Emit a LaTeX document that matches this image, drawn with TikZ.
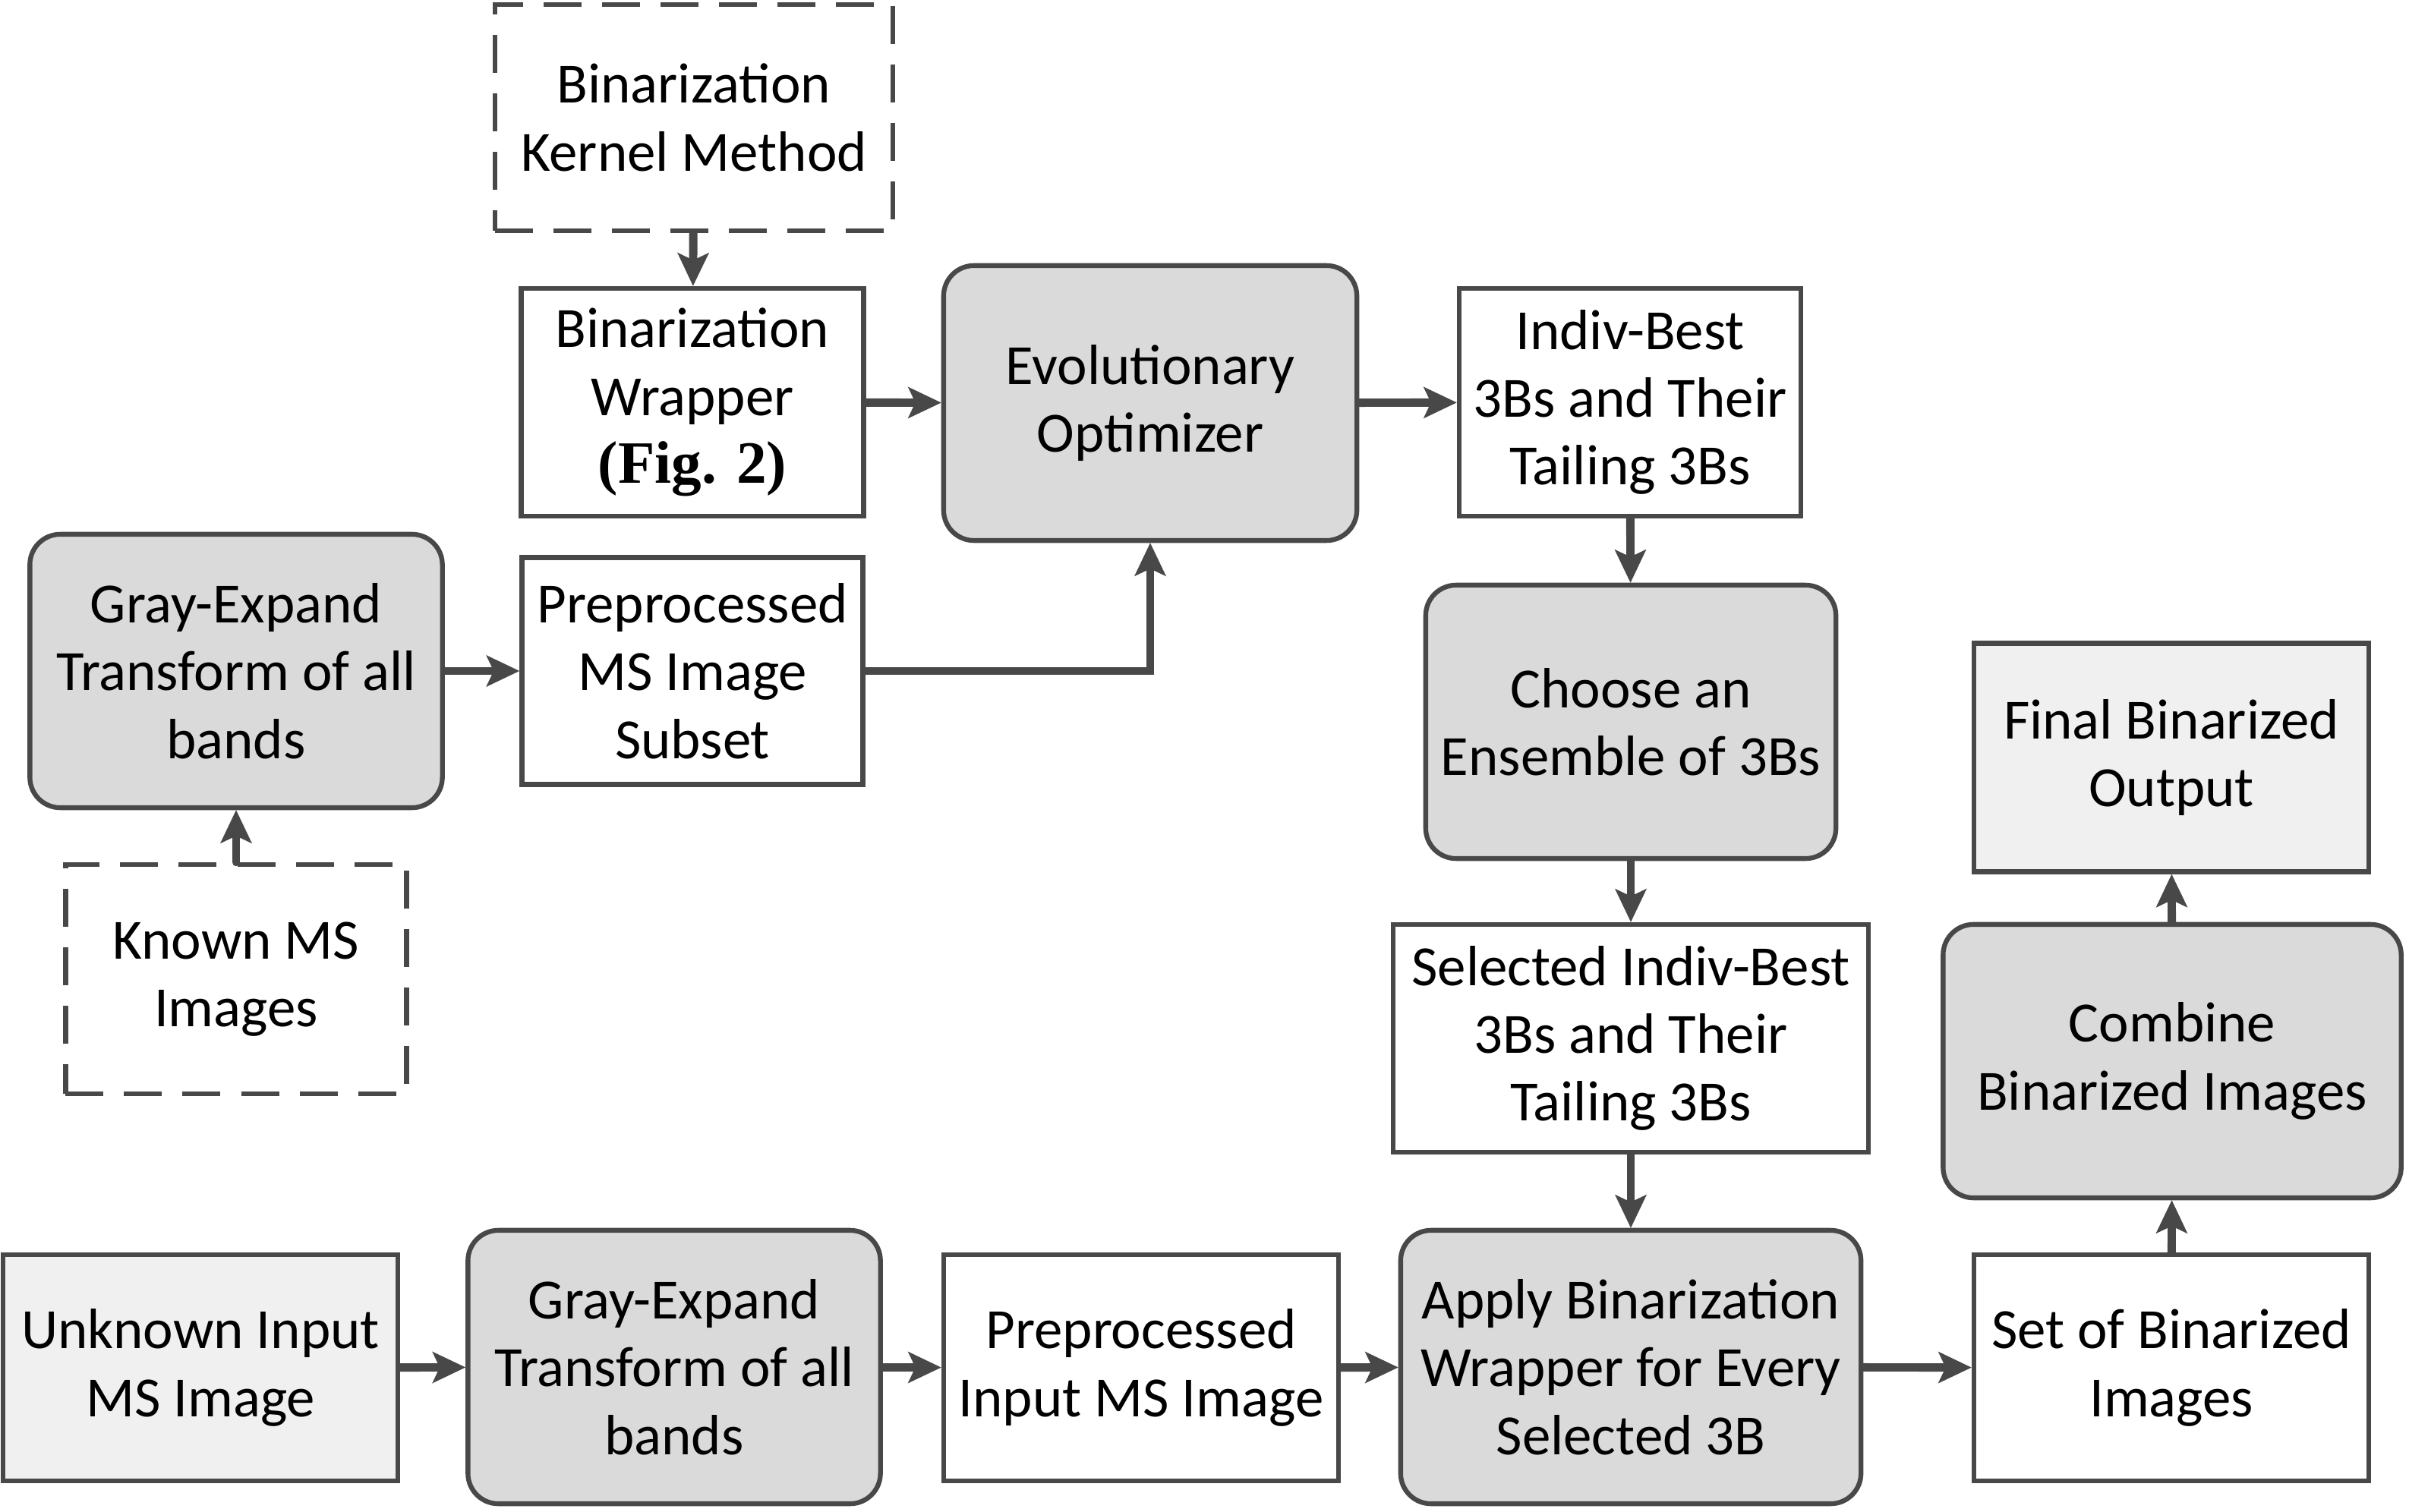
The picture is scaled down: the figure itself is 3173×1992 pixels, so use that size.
\documentclass[tikz,border=0pt]{standalone}
\usepackage{fontspec}
\setmainfont{Carlito}
\newfontfamily\timesbf{Liberation Serif}
\usetikzlibrary{arrows.meta}
\definecolor{lgray}{RGB}{72,72,72}
\definecolor{gfill}{RGB}{218,218,218}
\definecolor{lfill}{RGB}{240,240,240}
\tikzset{
  base/.style={draw=lgray, line width=1.8pt, align=center, inner sep=0pt,
    font=\fontsize{21.3}{25.4}\selectfont, text=black},
  whitebox/.style={base, fill=white},
  lightbox/.style={base, fill=lfill},
  graybox/.style={base, fill=gfill, rounded corners=0.4cm},
  dashbox/.style={base, fill=white, dash pattern=on 0.5cm off 0.27cm},
  conn/.style={draw=lgray, line width=3.1pt, line cap=round,
    -{Stealth[length=0.44cm, width=0.42cm, inset=0.1cm, line width=0pt]}},
}
\begin{document}
\begin{tikzpicture}[x=0.01cm, y=-0.01cm]
\useasboundingbox (0,0) rectangle (3173,1992);
% top-left column
\node[dashbox, minimum width=5.24cm, minimum height=2.98cm] (kern) at (914,155) {Binarization\\Kernel Method};
\node[whitebox, minimum width=4.51cm, minimum height=3.00cm] (wrap) at (912,530) {Binarization\\Wrapper\\{\timesbf\bfseries\fontsize{22.5}{25.4}\selectfont(Fig. 2)}};
\node[graybox, minimum width=5.44cm, minimum height=3.62cm] (evo) at (1515,531) {Evolutionary\\Optimizer};
\node[whitebox, minimum width=4.50cm, minimum height=3.00cm] (indiv) at (2147,530) {Indiv-Best\\3Bs and Their\\Tailing 3Bs};
\node[graybox, minimum width=5.43cm, minimum height=3.60cm] (ge1) at (311,884) {Gray-Expand\\Transform of all\\bands};
\node[whitebox, minimum width=4.49cm, minimum height=2.99cm] (sub) at (912,884) {Preprocessed\\MS Image\\Subset};
\node[graybox, minimum width=5.40cm, minimum height=3.60cm] (ens) at (2148,951) {Choose an\\Ensemble of 3Bs};
\node[lightbox, minimum width=5.20cm, minimum height=3.01cm] (final) at (2860,998) {Final Binarized\\Output};
\node[dashbox, minimum width=4.49cm, minimum height=3.02cm] (known) at (311,1290) {Known MS\\Images};
\node[whitebox, minimum width=6.26cm, minimum height=3.00cm] (sel) at (2148,1368) {Selected Indiv-Best\\3Bs and Their\\Tailing 3Bs};
\node[graybox, minimum width=6.03cm, minimum height=3.60cm] (comb) at (2861,1398) {Combine\\Binarized Images};
% bottom row
\node[lightbox, minimum width=5.20cm, minimum height=2.98cm] (unk) at (264,1802) {Unknown Input\\MS Image};
\node[graybox, minimum width=5.43cm, minimum height=3.60cm] (ge2) at (888,1801) {Gray-Expand\\Transform of all\\bands};
\node[whitebox, minimum width=5.20cm, minimum height=2.98cm] (pin) at (1503,1802) {Preprocessed\\Input MS Image};
\node[graybox, minimum width=6.06cm, minimum height=3.60cm] (app) at (2148,1801) {Apply Binarization\\Wrapper for Every\\Selected 3B};
\node[whitebox, minimum width=5.20cm, minimum height=2.98cm] (set) at (2860,1802) {Set of Binarized\\Images};
% connectors
\draw[conn] (kern) -- (wrap);
\draw[conn] (wrap) -- (evo);
\draw[conn] (evo) -- (indiv);
\draw[conn] (ge1) -- (sub);
\draw[conn] (sub.east) -| (evo.south);
\draw[conn] (known) -- (ge1);
\draw[conn] (indiv) -- (ens);
\draw[conn] (ens) -- (sel);
\draw[conn] (sel) -- (app);
\draw[conn] (unk) -- (ge2);
\draw[conn] (ge2) -- (pin);
\draw[conn] (pin) -- (app);
\draw[conn] (app) -- (set);
\draw[conn] (set) -- (comb);
\draw[conn] (comb) -- (final);
\end{tikzpicture}
\end{document}
